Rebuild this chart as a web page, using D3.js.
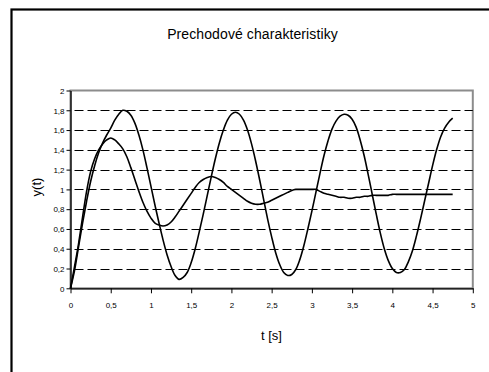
<!DOCTYPE html>
<html><head><meta charset="utf-8">
<script src="https://cdn.jsdelivr.net/npm/d3@7"></script>
<style>body{margin:0;background:#fff}svg{display:block}</style>
</head><body><svg id="c" width="489" height="372"></svg>
<script>
const title = "Prechodové charakteristiky";
const xLabel = "t [s]";
const yLabel = "y(t)";
const xTicks = [0,0.5,1,1.5,2,2.5,3,3.5,4,4.5,5];
const yTicks = [0,0.2,0.4,0.6,0.8,1,1.2,1.4,1.6,1.8,2];
const time = [0,0.05,0.1,0.15,0.2,0.25,0.3,0.35,0.4,0.45,0.5,0.55,0.6,0.65,0.7,0.75,0.8,0.85,0.9,0.95,
1,1.05,1.1,1.15,1.2,1.25,1.3,1.35,1.4,1.45,1.5,1.55,1.6,1.65,1.7,1.75,1.8,1.85,1.9,1.95,
2,2.05,2.1,2.15,2.2,2.25,2.3,2.35,2.4,2.45,2.5,2.55,2.6,2.65,2.7,2.75,2.8,2.85,2.9,2.95,
3,3.05,3.1,3.15,3.2,3.25,3.3,3.35,3.4,3.45,3.5,3.55,3.6,3.65,3.7,3.75,3.8,3.85,3.9,3.95,
4,4.05,4.1,4.15,4.2,4.25,4.3,4.35,4.4,4.45,4.5,4.55,4.6,4.65,4.7,4.75];
const seriesA = [0,0.22,0.45,0.72,0.98,1.18,1.31,1.4,1.46,1.5,1.52,1.5,1.46,1.41,1.33,1.22,1.1,0.98,0.87,0.78,
0.71,0.66,0.64,0.63,0.64,0.67,0.72,0.78,0.84,0.9,0.96,1.02,1.07,1.1,1.12,1.13,1.12,1.1,1.07,1.03,
1,0.97,0.94,0.91,0.88,0.86,0.85,0.85,0.86,0.87,0.89,0.91,0.93,0.95,0.97,0.99,1,1,1,1,
1,1,0.98,0.96,0.95,0.94,0.93,0.92,0.92,0.91,0.91,0.92,0.92,0.93,0.93,0.94,0.94,0.94,0.94,0.94,
0.95,0.95,0.95,0.95,0.95,0.95,0.95,0.95,0.95,0.95,0.95,0.95,0.95,0.95,0.95,0.95];
const seriesB = [0,0.18,0.42,0.66,0.88,1.08,1.24,1.37,1.47,1.55,1.62,1.7,1.76,1.8,1.79,1.75,1.67,1.55,1.4,1.22,
1.03,0.84,0.66,0.49,0.34,0.22,0.13,0.09,0.11,0.16,0.26,0.4,0.57,0.75,0.94,1.13,1.31,1.47,1.6,1.7,
1.76,1.78,1.76,1.7,1.6,1.46,1.29,1.1,0.9,0.7,0.52,0.36,0.24,0.16,0.13,0.14,0.19,0.29,0.43,0.6,
0.78,0.97,1.16,1.34,1.49,1.61,1.69,1.74,1.76,1.75,1.71,1.63,1.5,1.34,1.15,0.95,0.75,0.56,0.4,0.28,
0.2,0.16,0.16,0.19,0.27,0.38,0.53,0.7,0.88,1.06,1.24,1.4,1.53,1.62,1.68,1.72];

const svg = d3.select("#c");
const F = "Liberation Sans, Arial, sans-serif";
const x = d3.scaleLinear().domain([0,5]).range([70.5,472.8]);
const y = d3.scaleLinear().domain([0,2]).range([288.3,90.5]);

// outer frame
svg.append("rect").attr("x",11.5).attr("y",9.5).attr("width",520).attr("height",420)
  .attr("fill","none").attr("stroke","#000").attr("stroke-width",2.2);

svg.append("text").attr("x",252.5).attr("y",38.5).attr("text-anchor","middle")
  .attr("font-family",F).attr("font-size",14).attr("letter-spacing",0.1).text(title);

// plot border
svg.append("rect").attr("x",x(0)).attr("y",y(2)).attr("width",x(5)-x(0)).attr("height",y(0)-y(2))
  .attr("fill","none").attr("stroke","#8c8c8c").attr("stroke-width",2);

// grid
svg.append("g").selectAll("line").data(yTicks.filter(v=>v>0&&v<2)).join("line")
  .attr("x1",x(0)).attr("x2",x(5)).attr("y1",d=>Math.round(y(d))+0.5).attr("y2",d=>Math.round(y(d))+0.5)
  .attr("stroke","#000").attr("stroke-width",1).attr("stroke-dasharray","9,4").attr("stroke-dashoffset",-4);

const fmt = d => String(d).replace(".",",");
const yAxis = svg.append("g").attr("transform",`translate(${x(0)},0)`)
  .call(d3.axisLeft(y).tickValues(yTicks).tickFormat(fmt).tickSize(4).tickSizeOuter(0).tickPadding(2));
const xAxis = svg.append("g").attr("transform",`translate(0,${y(0)})`)
  .call(d3.axisBottom(x).tickValues(xTicks).tickFormat(fmt).tickSize(5).tickSizeOuter(0).tickPadding(9));
[yAxis,xAxis].forEach(g=>{
  g.selectAll("text").attr("font-family",F).attr("font-size",8).attr("fill","#000");
  g.selectAll("line").attr("stroke","#000");
  g.select(".domain").attr("stroke","#000").attr("stroke-width",1.3);
});
yAxis.selectAll("text").attr("dy","0.35em");

const pts = (vals) => time.map((t,i)=>[t,vals[i]]);
const line = d3.line().x(d=>x(d[0])).y(d=>y(d[1])).curve(d3.curveCatmullRom.alpha(0.5));
[seriesA,seriesB].forEach(s=>{
  svg.append("path").datum(pts(s)).attr("d",line).attr("fill","none")
    .attr("stroke","#000").attr("stroke-width",1.6).attr("stroke-linejoin","round");
});

svg.append("text").attr("x",271.5).attr("y",340).attr("text-anchor","middle")
  .attr("font-family",F).attr("font-size",13).attr("xml:space","preserve").text(xLabel);
svg.append("text").attr("transform","translate(40.5,187) rotate(-90)").attr("text-anchor","middle")
  .attr("font-family",F).attr("font-size",13).text(yLabel);
</script></body></html>
